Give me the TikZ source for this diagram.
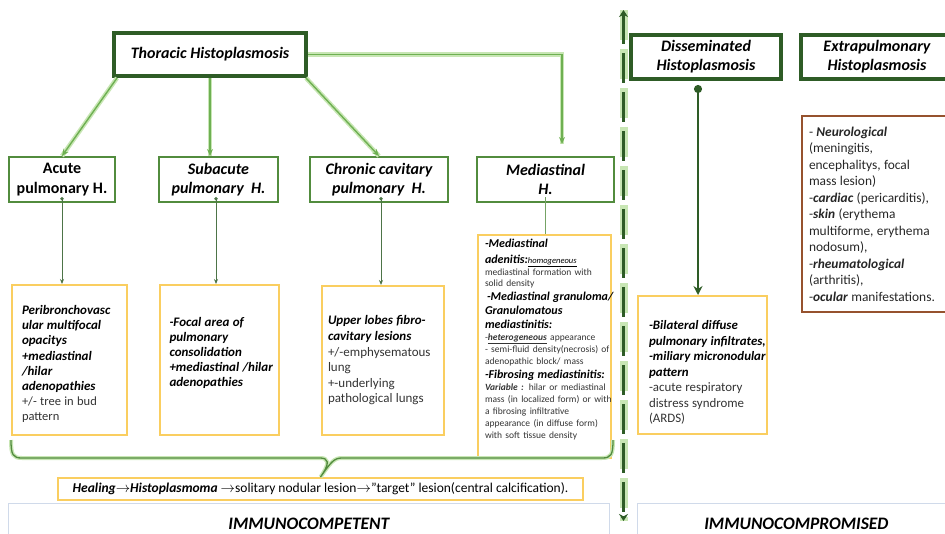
\documentclass[tikz,border=0pt]{standalone}
\usepackage{fontspec}
\setmainfont{Carlito}
\usetikzlibrary{arrows.meta,positioning,calc}
\definecolor{clrD}{RGB}{46,92,38}
\definecolor{clrM}{RGB}{82,140,62}
\definecolor{clrL}{RGB}{110,176,82}
\definecolor{clrGlow}{RGB}{200,230,180}
\definecolor{clrY}{RGB}{250,206,96}
\definecolor{clrR}{RGB}{150,82,46}
\definecolor{clrP}{RGB}{208,218,234}
\newcommand{\bi}[1]{\textbf{\textit{#1}}}
\hyphenpenalty=10000
\exhyphenpenalty=10000

\begin{document}
\begin{tikzpicture}[x=1pt,y=-1pt,
   head/.style={rectangle,draw=clrD,line width=4pt,fill=white,align=center,inner sep=0pt,
     font=\fontsize{16}{19}\selectfont\bfseries\itshape},
   kind/.style={rectangle,draw=clrM,line width=2pt,align=center,inner sep=0pt,
     minimum height=45pt,font=\fontsize{16}{19.5}\selectfont\bfseries},
   cbox/.style={rectangle,draw=clrY,line width=2pt,align=left,anchor=north west,inner ysep=0pt},
   panel/.style={rectangle,draw=clrP,line width=0.8pt,fill=white,minimum height=40pt,
     anchor=north west,inner sep=0pt,font=\fontsize{17.5}{20}\selectfont\bfseries\itshape},
   glow/.style={preaction={draw=clrGlow,line width=#1,-}},
   tarr/.style={-{Stealth[length=7pt,width=6pt]},draw=clrL,line width=1.4pt,glow=4.5pt},
   sarr/.style={{Circle[length=3.5pt]}-{Stealth[length=5pt,width=4pt]},draw=clrD!85,line width=1pt}]

  \path[use as bounding box,clip] (0,0) rectangle (945,533);

  % top row
  \node[head,minimum width=192pt,minimum height=43pt] (thor) at (210,54.5) {Thoracic Histoplasmosis};
  \node[head,minimum width=150pt,minimum height=44pt] (diss) at (706,57) {Disseminated\\Histoplasmosis};
  \node[head,minimum width=152pt,minimum height=44pt] (extra) at (877,57) {Extrapulmonary\\Histoplasmosis};

  % forms of thoracic histoplasmosis
  \node[kind,minimum width=106pt] (acu) at (62,179.5) {Acute\\pulmonary H.};
  \node[kind,minimum width=119pt,font=\fontsize{16}{19.5}\selectfont\bfseries\itshape] (sub) at (218.5,179.5)
    {Subacute\\pulmonary~~H.};
  \node[kind,minimum width=138pt,font=\fontsize{16}{19.5}\selectfont\bfseries\itshape] (chr) at (379,179.5)
    {Chronic cavitary\\pulmonary~~H.};
  \node[kind,minimum width=137pt,font=\fontsize{16}{19.5}\selectfont\bfseries\itshape] (med) at (545.5,179.5)
    {Mediastinal\\H.};

  % imaging findings
  \node[cbox,text width=95pt,inner xsep=10pt,minimum height=150pt] (acuf) at (11,284)
    {{\fontsize{13}{15.2}\selectfont\rule{0pt}{17pt}\bi{Peribronchovasc\\ular multifocal\\opacitys\\+mediastinal\\/hilar\\adenopathies}\\
     \color{black!80}\fontsize{12.5}{15}\selectfont+/- tree in bud\\pattern\par}};
  \node[cbox,text width=100pt,inner xsep=9.5pt,minimum height=150pt] (subf) at (159,284)
    {{\fontsize{13}{15.2}\selectfont\bi{-Focal area of\\pulmonary\\consolidation\\+mediastinal~/hilar\\adenopathies}\par}
     \vspace{4pt}\null};
  \node[cbox,text width=110pt,inner xsep=6pt,minimum height=149pt] (chrf) at (321,285)
    {{\fontsize{13}{15.6}\selectfont\bi{Upper lobes fibro-\\cavitary lesions}\\
     \color{black!80}+/-emphysematous\\lung\\+-underlying\\pathological lungs\par}};
  \node[cbox,text width=119pt,inner xsep=7pt,minimum height=223pt] (medf) at (477,234)
    {{\fontsize{12}{16}\selectfont\bi{-Mediastinal}\\
      \bi{adenitis:}{\fontsize{8.5}{8}\selectfont\underline{\textit{homogeneous}}}\par}
     {\fontsize{9.5}{11.8}\selectfont\color{black!80}mediastinal formation with\\solid density\par}
     {\fontsize{12}{14}\selectfont\mbox{\hspace*{2pt}\bi{-Mediastinal granuloma/}}\\\bi{Granulomatous}\\\bi{mediastinitis:}\par}
     {\fontsize{9.5}{11.8}\selectfont\color{black!80}-\underline{\bi{heterogeneous}} appearance\\
      \mbox{- semi-fluid density(necrosis) of}\\adenopathic block/ mass\par}
     {\fontsize{12}{14}\selectfont\mbox{\bi{-Fibrosing mediastinitis:}}\par}
     {\fontsize{9.5}{12}\selectfont\color{black!80}\mbox{\bi{Variable :} hilar or mediastinal}\\
      \mbox{mass (in localized form) or with}\\a fibrosing infiltrative\\appearance (in diffuse form)\\
      with soft tissue density\par}
     \vspace{4pt}\null};
  \node[cbox,text width=107pt,inner xsep=11pt,minimum height=138pt] (dissf) at (637,295)
    {{\fontsize{12.9}{15.5}\selectfont\rule{0pt}{24pt}\bi{-Bilateral diffuse\\\mbox{pulmonary infiltrates,}\\\mbox{-miliary micronodular}\\pattern}\\
     \color{black!80}-acute respiratory\\distress syndrome\\(ARDS)\par}};
  \node[cbox,draw=clrR,text width=140pt,inner xsep=7pt,minimum height=196pt] (extraf) at (801,115)
    {{\fontsize{13.4}{16.5}\selectfont\color{black!85}- \bi{Neurological}\\(meningitis,\\encephalitys, focal\\
     mass lesion)\\-\bi{cardiac} (pericarditis),\\-\bi{skin} (erythema\\multiforme, erythema\\nodosum),\\
     -\bi{rheumatological}\\(arthritis),\\-\bi{ocular} manifestations.\par}};

  % outcome and patient groups
  \node[panel,minimum width=601pt] (comp) at (8,503) {IMMUNOCOMPETENT};
  \node[panel,minimum width=318pt] (compr) at (637,503) {IMMUNOCOMPROMISED};
  \node[rectangle,draw=clrY,line width=2pt,fill=white,minimum width=525pt,minimum height=22pt,
    inner sep=0pt,font=\fontsize{13.5}{15}\selectfont] (heal) at (320.5,489)
    {\bi{Healing}$\rightarrow$\bi{Histoplasmoma} $\rightarrow$solitary nodular lesion$\rightarrow$\symbol{34}target\symbol{34} lesion(central calcification).};

  % connectors
  \coordinate (medin) at (562,144);
  \draw[tarr] ([xshift=5pt]thor.south west) -- (acu.north);
  \draw[tarr] (thor.south) -- (thor.south |- sub.north);
  \draw[tarr] ([xshift=-2pt]thor.south east) -- (chr.north);
  \draw[tarr] (thor.east) -| (medin);

  \draw[sarr] ([yshift=6pt]acu.south) -- (acu.south |- acuf.north);
  \draw[sarr] ([yshift=6pt,xshift=-2.5pt]sub.south) -- ([xshift=-2.5pt]sub.south |- subf.north);
  \draw[sarr] ([yshift=6pt,xshift=2pt]chr.south) -- ([xshift=2pt]chr.south |- chrf.north);
  \draw[draw=clrM!80,line width=0.9pt] ([yshift=6pt]med.south) -- (med.south |- medf.north);
  \draw[{Circle[length=8pt]}-{Stealth[length=9pt,width=9pt]},draw=clrD,line width=2pt]
    ([xshift=-8pt,yshift=-4pt]diss.south) -- ([xshift=-8pt]diss.south |- dissf.north);

  % brace gathering the immunocompetent forms
  \coordinate (bl) at (11,440);
  \coordinate (br) at (613,440);
  \draw[draw=clrM,line width=1.3pt,glow=4pt]
    (bl) .. controls (11,455) and (13,458) .. (22,458) -- (320,458)
    .. controls (328,458) and (331,462) .. (heal.north)
    .. controls (331,462) and (334,458) .. (342,458) -- (602,458)
    .. controls (611,458) and (613,455) .. (br);

  % divider between the two groups
  \coordinate (dtop) at (623.5,10);
  \coordinate (dbot) at (623.5,521);
  \draw[{Stealth[length=7pt,width=9pt]}-{Stealth[length=7pt,width=9pt]},draw=clrD,line width=3.6pt,
    dash pattern=on 30pt off 9pt,
    preaction={draw=clrGlow,line width=8pt,dash pattern=on 30pt off 9pt,-}] (dtop) -- (dbot);
\end{tikzpicture}
\end{document}
